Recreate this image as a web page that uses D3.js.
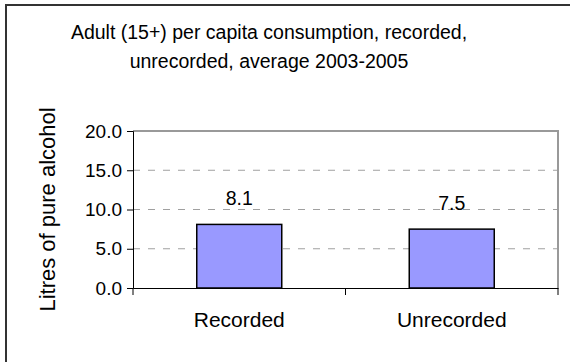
<!DOCTYPE html>
<html>
<head>
<meta charset="utf-8">
<script src="https://cdn.jsdelivr.net/npm/d3@7"></script>
<style>
  html, body { margin: 0; padding: 0; background: #fff; }
  svg { display: block; font-family: "Liberation Sans", Arial, sans-serif; }
</style>
</head>
<body>
<svg id="chart" width="570" height="362"></svg>
<script>
// Adult per capita alcohol consumption, 2003-2005 average
const categories = ["Recorded", "Unrecorded"];
const values = [8.1, 7.5];
const yTicks = [0, 5, 10, 15, 20];
const titleLines = ["Adult (15+) per capita consumption, recorded,", "unrecorded, average 2003-2005"];
const yLabel = "Litres of pure alcohol";

const FONT = "Liberation Sans, Arial, sans-serif";
const svg = d3.select("#chart");
const W = 570, H = 362;
const plot = { left: 133, right: 558, top: 131, bottom: 288 };

// outer frame (runs past the right and bottom edge)
svg.append("rect")
  .attr("x", 6).attr("y", 5)
  .attr("width", W + 10).attr("height", H + 10)
  .attr("fill", "#fff").attr("stroke", "#333").attr("stroke-width", 2);

// title
svg.append("g").selectAll("text").data(titleLines).join("text")
  .attr("x", 269).attr("y", (d, i) => 39 + i * 29)
  .attr("text-anchor", "middle")
  .attr("font-size", 19.5)
  .attr("fill", "#000")
  .text(d => d);

const x = d3.scaleBand().domain(categories)
  .range([plot.left, plot.right]).paddingInner(0.6).paddingOuter(0.3);
const xOuter = d3.scaleBand().domain(categories).range([plot.left, plot.right]);
const y = d3.scaleLinear().domain([0, 20]).range([plot.bottom, plot.top]);

// gridlines
svg.append("g").selectAll("line").data(yTicks.filter(t => t > 0 && t < 20)).join("line")
  .attr("x1", plot.left).attr("x2", plot.right)
  .attr("y1", d => y(d)).attr("y2", d => y(d))
  .attr("stroke", "#a0a0a0").attr("stroke-width", 1)
  .attr("stroke-dasharray", "7,8");

// plot area border (top and right)
svg.append("path")
  .attr("d", `M${plot.left},${y(20)}H${plot.right}V${plot.bottom}`)
  .attr("fill", "none").attr("stroke", "#999").attr("stroke-width", 2);

// bars
svg.append("g").selectAll("rect").data(values).join("rect")
  .attr("x", (d, i) => x(categories[i]))
  .attr("width", x.bandwidth())
  .attr("y", d => y(d))
  .attr("height", d => y(0) - y(d))
  .attr("fill", "#9999ff").attr("stroke", "#000").attr("stroke-width", 1.5);

// value labels
svg.append("g").selectAll("text").data(values).join("text")
  .attr("x", (d, i) => x(categories[i]) + x.bandwidth() / 2)
  .attr("y", d => y(d) - 19)
  .attr("text-anchor", "middle")
  .attr("font-size", 19.5)
  .text(d => d.toFixed(1));

// y axis
const yAxis = svg.append("g")
  .attr("transform", `translate(${plot.left},0)`)
  .call(d3.axisLeft(y).tickValues(yTicks).tickFormat(d3.format(".1f")).tickSize(6).tickPadding(5));
yAxis.select(".domain").attr("stroke", "#000");
yAxis.selectAll("text").attr("font-size", 19).attr("font-family", FONT).attr("fill", "#000");

// x axis
const xAxis = svg.append("g")
  .attr("transform", `translate(0,${plot.bottom})`)
  .call(d3.axisBottom(xOuter).tickSize(0).tickPadding(24));
xAxis.select(".domain").attr("stroke", "#000");
xAxis.selectAll("text").attr("font-size", 21).attr("font-family", FONT).attr("fill", "#000");
// ticks at category boundaries
const bounds = [plot.left, ...categories.slice(1).map(c => xOuter(c)), plot.right];
xAxis.append("g").selectAll("line").data(bounds).join("line")
  .attr("x1", d => d).attr("x2", d => d)
  .attr("y1", 0).attr("y2", 7)
  .attr("stroke", "#000");

// y axis title
svg.append("text")
  .attr("transform", `translate(55,${(plot.top + plot.bottom) / 2}) rotate(-90)`)
  .attr("text-anchor", "middle")
  .attr("font-size", 22)
  .text(yLabel);
</script>
</body>
</html>
